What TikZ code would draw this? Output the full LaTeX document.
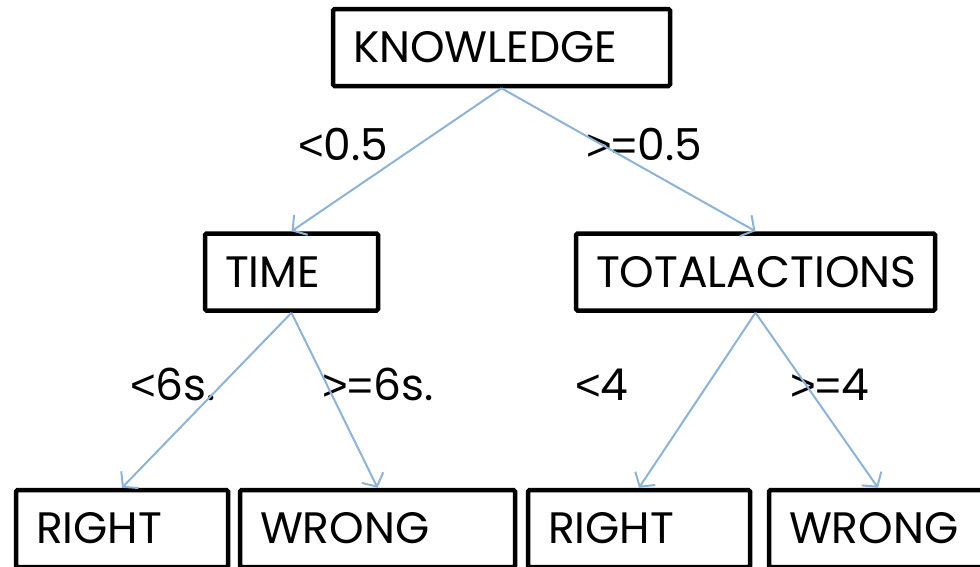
\documentclass[tikz,border=0pt]{standalone}
\usepackage{fontspec}
\setmainfont{Poppins}
\newfontfamily\symfont{Liberation Sans}
\newcommand{\lt}{{\symfont<}}
\newcommand{\gte}{{\symfont>=}}
\usetikzlibrary{arrows.meta}
\definecolor{edgeblue}{RGB}{141,179,214}
\tikzset{
  treebox/.style={draw=black, line width=4.5pt, rounded corners=1.5pt, fill=white,
    inner xsep=20pt, inner ysep=0pt, align=left, minimum height=77pt,
    font=\fontsize{44}{50}\selectfont},
  cond/.style={anchor=base west, inner sep=0pt, font=\fontsize{44}{50}\selectfont},
  edge/.style={draw=edgeblue, line width=2pt,
    -{Straight Barb[length=10pt,width=24pt,line width=2pt]}},
}
\begin{document}
\begin{tikzpicture}[x=1pt,y=-1pt]
\useasboundingbox (0,0) rectangle (980,566);
\clip (0,0) rectangle (980,566);
\node[treebox, text width=297pt, minimum width=337pt] (know) at (501.5,47.5) {KNOWLEDGE};
\node[treebox, text width=133pt, minimum width=173pt] (time) at (291.5,272) {TIME};
\node[treebox, text width=319pt, minimum width=359pt] (total) at (755.5,272) {TOTALACTIONS};
\node[treebox, text width=172pt, minimum width=212pt] (r1) at (122,528.5) {RIGHT};
\node[treebox, text width=235pt, minimum width=275pt] (w1) at (377.5,528.5) {WRONG};
\node[treebox, text width=182pt, minimum width=222pt] (r2) at (639,528.5) {RIGHT};
\node[treebox, text width=178pt, minimum width=218pt] (w2) at (878,528.5) {WRONG};
\node[cond] (c1) at (298,160) {\lt 0.5};
\node[cond] (c2) at (586,160) {\gte 0.5};
\node[cond] (c3) at (130,400) {\lt 6s.};
\node[cond] (c4) at (322,400) {\gte 6s.};
\node[cond] (c5) at (575,400) {\lt 4};
\node[cond] (c6) at (790,400) {\gte 4};
\draw[edge] (know.south) -- (time.north);
\draw[edge] (know.south) -- (total.north);
\draw[edge] (time.south) -- (r1.north);
\draw[edge] (time.south) -- (w1.north);
\draw[edge] (total.south) -- (r2.north);
\draw[edge] (total.south) -- (w2.north);
\end{tikzpicture}
\end{document}
